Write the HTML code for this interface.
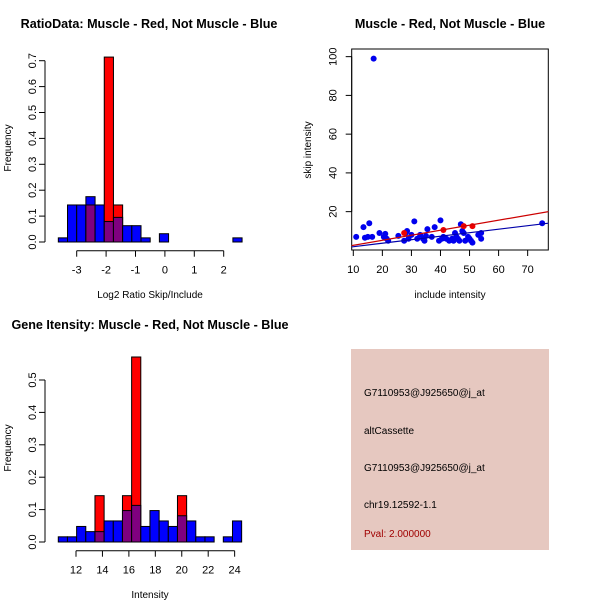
<!DOCTYPE html>
<html><head><meta charset="utf-8"><style>
body{margin:0;background:#fff;}
svg{display:block;font-family:"Liberation Sans",sans-serif;}
</style></head><body>
<svg id="s" width="600" height="600">
<rect width="600" height="600" fill="#fff"/>
<text x="149" y="28" text-anchor="middle" font-size="12.6" font-weight="bold">RatioData: Muscle - Red, Not Muscle - Blue</text>
<text x="450" y="28" text-anchor="middle" font-size="12.6" font-weight="bold">Muscle - Red, Not Muscle - Blue</text>
<text x="150" y="329" text-anchor="middle" font-size="12.6" font-weight="bold">Gene Itensity: Muscle - Red, Not Muscle - Blue</text>
<text x="150" y="298" text-anchor="middle" font-size="10">Log2 Ratio Skip/Include</text>
<text x="150" y="598" text-anchor="middle" font-size="10">Intensity</text>
<text x="450" y="298" text-anchor="middle" font-size="10">include intensity</text>
<text transform="translate(11,148) rotate(-90)" text-anchor="middle" font-size="10">Frequency</text>
<text transform="translate(11,448) rotate(-90)" text-anchor="middle" font-size="10">Frequency</text>
<text transform="translate(311,150) rotate(-90)" text-anchor="middle" font-size="10">skip intensity</text>
<g>
<rect x="351" y="349" width="198" height="201" fill="#e6c8c0"/>
<text x="364" y="396" font-size="10">G7110953@J925650@j_at</text>
<text x="364" y="434" font-size="10">altCassette</text>
<text x="364" y="471" font-size="10">G7110953@J925650@j_at</text>
<text x="364" y="508" font-size="10">chr19.12592-1.1</text>
<text x="364" y="537" font-size="10" fill="#a00000">Pval: 2.000000</text>
</g>
</svg>
<script>
// Ratio histogram data
const ratioBreakStart = -3.625, ratioBinW = 0.3125;
const ratioBlue = [0.016,0.143,0.143,0.175,0.143,0.079,0.095,0.063,0.063,0.016,0,0.032,0,0,0,0,0,0,0,0.016];
const ratioRed  = [0,0,0,0.143,0,0.714,0.143,0,0,0,0,0,0,0,0,0,0,0,0,0];
const ratioXTicks = [-3,-2,-1,0,1,2];
const ratioYTicks = [0,0.1,0.2,0.3,0.4,0.5,0.6,0.7];
// Intensity histogram data
const intBreakStart = 10.66, intBinW = 0.6935;
const intBlue = [0.016,0.016,0.048,0.032,0.032,0.065,0.065,0.097,0.113,0.048,0.097,0.065,0.048,0.081,0.065,0.016,0.016,0,0.016,0.065];
const intRed  = [0,0,0,0,0.143,0,0,0.143,0.571,0,0,0,0,0.143,0,0,0,0,0,0];
const intXTicks = [12,14,16,18,20,22,24];
const intYTicks = [0,0.1,0.2,0.3,0.4,0.5];
// Scatter data
const blueInc = [11,13.5,14,15,15.5,16.5,17,19,20.5,21,21.5,22,25.5,27.5,28,28.5,29,30,31,32,33,34,34.5,35,35.5,37,38,39.5,40,40.5,41,42,43,44,44.5,45,45.5,46,46.5,47,47.5,48,48.5,49.5,50,50.5,51,53,54,54,75];
const blueSkip = [7,12,6.5,7,14,7,99,9,7,8.5,6,5,7.5,5,9,10,6,8,15,6,8,6,5,7.5,11,7,12,5,15.5,6,7,6,5,6,5,9,7,6,5,13.5,10,9,5,7,6,5,4,8,9,6,14];
const redInc = [27.5,41,48,51];
const redSkip = [9,10.5,12.5,12.5];
const fitRed = [0.04,0.259];   // intercept, slope
const fitBlue = [0.08,0.181];
const scXTicks = [10,20,30,40,50,60,70];
const scYTicks = [20,40,60,80,100];

const NS="http://www.w3.org/2000/svg", svg=document.getElementById('s');
function mk(t,a,p){const e=document.createElementNS(NS,t);for(const k in a)e.setAttribute(k,a[k]);(p||svg).appendChild(e);return e;}

function hist(o){
  const g=mk('g',{});
  
  
  const X=v=>o.x0+(v-o.xv0)*o.xs, Y=v=>o.y0-v*o.ys;
  o.blue.forEach((b,i)=>{
    const r=o.red[i], l=X(o.bs+i*o.bw), w=o.bw*o.xs;
    const top=Math.max(b,r), mn=Math.min(b,r);
    if(top<=0) return;
    const hi=b>=r?'#0000ff':'#ff0000';
    const e=mk('rect',{x:l,y:Y(top),width:w,height:Y(0)-Y(top),fill:hi,stroke:'#000','stroke-width':1},g);
    
    
    if(mn>0){
      const p=mk('rect',{x:l,y:Y(mn),width:w,height:Y(0)-Y(mn),fill:'#7f007f',stroke:'#000','stroke-width':1},g);
      
      
    }
  });
  const ya=o.yt;
  mk('line',{x1:o.yax,x2:o.yax,y1:Y(ya[0]),y2:Y(ya[ya.length-1]),stroke:'#000'},g);
  ya.forEach(t=>{mk('line',{x1:o.yax-6,x2:o.yax,y1:Y(t),y2:Y(t),stroke:'#000'},g);
    const tx=mk('text',{transform:`translate(${o.yax-9},${Y(t)}) rotate(-90)`,'text-anchor':'middle','font-size':11},g);tx.textContent=t.toFixed(1);});
  const xa=o.xt;
  mk('line',{x1:X(xa[0]),x2:X(xa[xa.length-1]),y1:o.xay,y2:o.xay,stroke:'#000'},g);
  xa.forEach(t=>{mk('line',{x1:X(t),x2:X(t),y1:o.xay,y2:o.xay+6,stroke:'#000'},g);
    const tx=mk('text',{x:X(t),y:o.xay+23,'text-anchor':'middle','font-size':11},g);tx.textContent=t;});
}
hist({name:'ratio-histogram',blue:ratioBlue,red:ratioRed,bs:ratioBreakStart,bw:ratioBinW,x0:76.7,xv0:-3,xs:29.4,y0:242,ys:259,yt:ratioYTicks,xt:ratioXTicks,yax:45,xay:250.7});
hist({name:'intensity-histogram',blue:intBlue,red:intRed,bs:intBreakStart,bw:intBinW,x0:76,xv0:12,xs:13.22,y0:542,ys:324,yt:intYTicks,xt:intXTicks,yax:45,xay:550.7});

(function(){
  const g=mk('g',{});
  
  
  const X=v=>353.3+(v-10)*2.906, Y=v=>250.4-v*1.9375;
  const L=351.7,R=548.3,T=49,B=250;
  const cp=mk('clipPath',{id:'cp'},g);mk('rect',{x:L,y:T,width:R-L,height:B-T},cp);
  mk('rect',{x:L,y:T,width:R-L,height:B-T,fill:'none',stroke:'#000'},g);
  scYTicks.forEach(t=>{mk('line',{x1:L-6,x2:L,y1:Y(t),y2:Y(t),stroke:'#000'},g);
    const tx=mk('text',{transform:`translate(${L-15},${Y(t)}) rotate(-90)`,'text-anchor':'middle','font-size':11},g);tx.textContent=t;});
  mk('line',{x1:L,x2:L,y1:Y(20),y2:Y(100),stroke:'#000'},g);
  mk('line',{x1:X(10),x2:X(70),y1:B,y2:B,stroke:'#000'},g);
  scXTicks.forEach(t=>{mk('line',{x1:X(t),x2:X(t),y1:B,y2:B+6,stroke:'#000'},g);
    const tx=mk('text',{x:X(t),y:B+23,'text-anchor':'middle','font-size':11},g);tx.textContent=t;});
  blueInc.forEach((v,i)=>{const c=mk('circle',{cx:X(v),cy:Y(blueSkip[i]),r:3,fill:'#0000ee'},g);
    
    });
  redInc.forEach((v,i)=>{const c=mk('circle',{cx:X(v),cy:Y(redSkip[i]),r:3,fill:'#ee0000'},g);
    
    });
  [[fitRed,'#cc0000','red-fit-line'],[fitBlue,'#0000aa','blue-fit-line']].forEach(([f,c,n])=>{
    const x1=9,x2=78;
    const l=mk('line',{x1:X(x1),x2:X(x2),y1:Y(f[0]+f[1]*x1),y2:Y(f[0]+f[1]*x2),stroke:c,'stroke-width':1.2,'clip-path':'url(#cp)'},g);
    
    
  });
})();
</script>
</body></html>
